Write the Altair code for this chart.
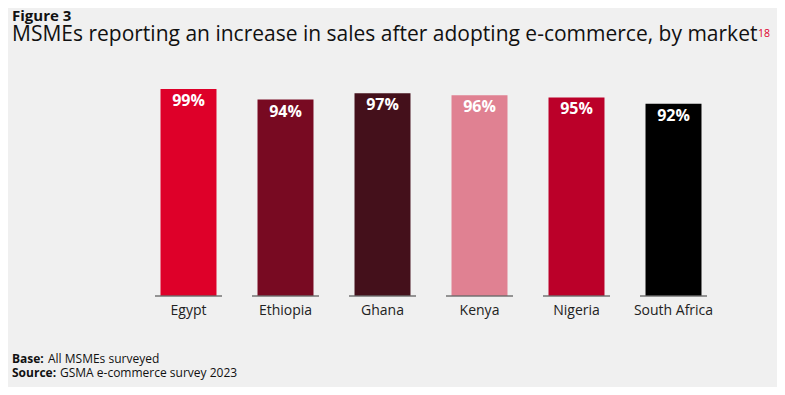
import altair as alt
import pandas as pd

markets = ["Egypt", "Ethiopia", "Ghana", "Kenya", "Nigeria", "South Africa"]
values = [99, 94, 97, 96, 95, 92]
labels = ["99%", "94%", "97%", "96%", "95%", "92%"]
colors = ["#de0029", "#780a22", "#44101b", "#e08192", "#bb0029", "#000000"]

fig_label = "Figure 3"
title_text = "MSMEs reporting an increase in sales after adopting e-commerce, by market"
footnote_ref = "18"
base_bold, base_text = "Base:", "All MSMEs surveyed"
source_bold, source_text = "Source:", "GSMA e-commerce survey 2023"

FONT = "Open Sans"
df = pd.DataFrame({"market": markets, "value": values, "label": labels, "zero": [0] * 6})

x = alt.X("market:N", sort=markets,
          scale=alt.Scale(paddingInner=0.423, paddingOuter=0.2115),
          axis=alt.Axis(title=None, domain=False, ticks=False, labelAngle=0,
                        labelFontSize=14, labelColor="#222222", labelFont=FONT,
                        labelPadding=7))
yscale = alt.Scale(domain=[0, 100], nice=False)

bars = alt.Chart(df).mark_bar().encode(
    x=x,
    y=alt.Y("value:Q", scale=yscale, axis=None),
    color=alt.Color("market:N", scale=alt.Scale(domain=markets, range=colors), legend=None),
)

base_ticks = alt.Chart(df).mark_tick(size=67, thickness=2, color="#6b6b6b").encode(
    x=alt.X("market:N", sort=markets),
    y=alt.Y("zero:Q", scale=yscale),
)

value_text = alt.Chart(df).mark_text(
    color="white", fontWeight="bold", fontSize=16, font=FONT, baseline="middle", dy=12
).encode(
    x=alt.X("market:N", sort=markets),
    y=alt.Y("value:Q", scale=yscale),
    text="label:N",
)

def txt(s, xv, yv, size, weight="normal", color="#111111"):
    return alt.Chart(pd.DataFrame({"t": [s]})).mark_text(
        align="left", baseline="top", fontSize=size, fontWeight=weight,
        color=color, font=FONT
    ).encode(x=alt.value(xv), y=alt.value(yv), text="t:N")

annotations = [
    txt(fig_label, -128, -78, 15, "bold"),
    txt(title_text, -128, -62.6, 21),
    txt(footnote_ref, 618, -58.3, 10.5, color="#de0029"),
    txt(base_bold, -128, 266.5, 12, "bold"),
    txt(base_text, -92, 266.5, 12),
    txt(source_bold, -128, 280.5, 12, "bold"),
    txt(source_text, -80, 280.5, 12),
]

chart = alt.layer(bars, base_ticks, value_text, *annotations).properties(
    width=582, height=209,
    autosize=alt.AutoSizeParams(type="none"),
    padding={"left": 132, "top": 79, "right": 55, "bottom": 91},
    background="#f0f0f0",
).configure_view(stroke=None)

chart.save("out.html", embed_options={"renderer": "svg", "actions": False})
